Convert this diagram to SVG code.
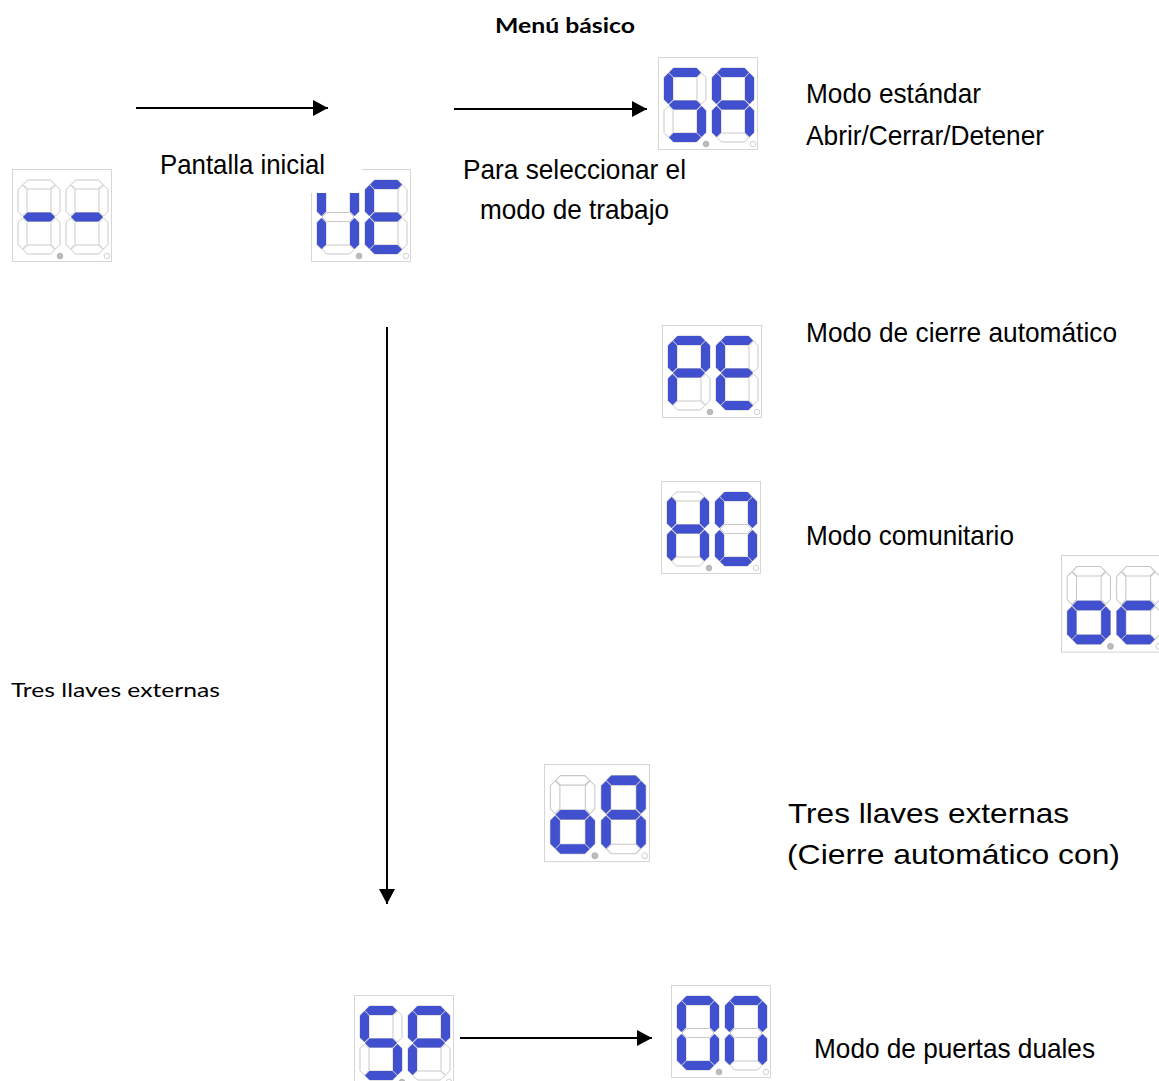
<svg xmlns="http://www.w3.org/2000/svg" width="1159" height="1081" viewBox="0 0 1159 1081">
<style>
.box{fill:#fff;stroke:#d6d6d6;stroke-width:1}
.on{fill:#4050cf}
.dot1{fill:#bdbdbd;stroke:#a8a8a8;stroke-width:0.8}
.dot2{fill:#fff;stroke:#c4c4c4;stroke-width:0.8}
.cond{font-family:"Liberation Sans",Arial,sans-serif;font-size:28px;fill:#000}
.reg{font-family:"Liberation Sans",Arial,sans-serif;font-size:28px;fill:#000}
.small{font-family:"Lato","Liberation Sans",sans-serif;font-size:20px;fill:#000}
.title{font-family:"Lato","Liberation Sans",sans-serif;font-size:21px;font-weight:bold;fill:#000}
.conn{stroke:#000;stroke-width:2;fill:none}
</style>
<defs>
<polygon id="h" points="5,0 9.5,-4.5 32.5,-4.5 37,0 32.5,4.5 9.5,4.5"/>
<polygon id="v" points="0,5 4.5,9.5 4.5,31.5 0,36 -4.5,31.5 -4.5,9.5"/>
<use id="sa" href="#h" transform="translate(0,4.5)"/>
<use id="sg" href="#h" transform="translate(0,37)"/>
<use id="sd" href="#h" transform="translate(0,69.5)"/>
<use id="sf" href="#v" transform="translate(4.5,0)"/>
<use id="sb" href="#v" transform="translate(37.5,0)"/>
<use id="se" href="#v" transform="translate(4.5,33)"/>
<use id="sc" href="#v" transform="translate(37.5,33)"/>
<g id="off" fill="#fff" stroke="#c8c8c8" stroke-width="1">
<use href="#sa"/><use href="#sb"/><use href="#sc"/><use href="#sd"/><use href="#se"/><use href="#sf"/><use href="#sg"/>
</g>
<g id="frame">
<rect class="box" x="0.5" y="0.5" width="99" height="92"/>
<use href="#off" x="6" y="11"/><use href="#off" x="54" y="11"/>
<circle class="dot1" cx="48" cy="87" r="2.8"/><circle class="dot2" cx="95" cy="87" r="2.8"/>
</g>
<marker id="arr" markerUnits="userSpaceOnUse" markerWidth="16" markerHeight="16" refX="15" refY="8" orient="auto">
<path d="M0,0 L15,8 L0,16 Z" fill="#000"/>
</marker>
</defs>

<g id="title"><text class="title" x="495" y="33" textLength="140" lengthAdjust="spacingAndGlyphs">Menú básico</text></g>

<g id="disp-dashes" transform="translate(12,169)">
<use href="#frame"/>
<g class="on" transform="translate(6,11)"><use href="#sg"/></g>
<g class="on" transform="translate(54,11)"><use href="#sg"/></g>
</g>

<g id="disp-UE" transform="translate(311,169)">
<use href="#frame"/>
<g class="on" transform="translate(6,11)"><use href="#sb"/><use href="#sc"/><use href="#se"/><use href="#sf"/></g>
<g class="on" transform="translate(54,11)"><use href="#sa"/><use href="#sd"/><use href="#se"/><use href="#sf"/><use href="#sg"/></g>
</g>
<rect id="cover" x="305" y="160" width="57" height="33" fill="#fff"/>

<g id="disp-SA" transform="translate(658,57)">
<use href="#frame"/>
<g class="on" transform="translate(6,11)"><use href="#sa"/><use href="#sf"/><use href="#sg"/><use href="#sc"/><use href="#sd"/></g>
<g class="on" transform="translate(54,11)"><use href="#sa"/><use href="#sb"/><use href="#sc"/><use href="#se"/><use href="#sf"/><use href="#sg"/></g>
</g>

<g id="disp-PE" transform="translate(662,325)">
<use href="#frame"/>
<g class="on" transform="translate(6,11)"><use href="#sa"/><use href="#sb"/><use href="#sf"/><use href="#sg"/><use href="#se"/></g>
<g class="on" transform="translate(54,11)"><use href="#sa"/><use href="#sf"/><use href="#sg"/><use href="#se"/><use href="#sd"/></g>
</g>

<g id="disp-HO" transform="translate(661,481)">
<use href="#frame"/>
<g class="on" transform="translate(6,11)"><use href="#sb"/><use href="#sc"/><use href="#se"/><use href="#sf"/><use href="#sg"/></g>
<g class="on" transform="translate(54,11)"><use href="#sa"/><use href="#sb"/><use href="#sc"/><use href="#sd"/><use href="#se"/><use href="#sf"/></g>
</g>

<g id="disp-oc" transform="translate(1061,555) scale(1.03,1.05)">
<use href="#frame"/>
<g class="on" transform="translate(6,11)"><use href="#sg"/><use href="#sc"/><use href="#sd"/><use href="#se"/></g>
<g class="on" transform="translate(54,11)"><use href="#sg"/><use href="#se"/><use href="#sd"/></g>
</g>

<g id="disp-oA" transform="translate(544,764) scale(1.06,1.055)">
<use href="#frame"/>
<g class="on" transform="translate(6,11)"><use href="#sg"/><use href="#sc"/><use href="#sd"/><use href="#se"/></g>
<g class="on" transform="translate(54,11)"><use href="#sa"/><use href="#sb"/><use href="#sc"/><use href="#se"/><use href="#sf"/><use href="#sg"/></g>
</g>

<g id="disp-SP" transform="translate(354,995)">
<use href="#frame"/>
<g class="on" transform="translate(6,11)"><use href="#sa"/><use href="#sf"/><use href="#sg"/><use href="#sc"/><use href="#sd"/></g>
<g class="on" transform="translate(54,11)"><use href="#sa"/><use href="#sb"/><use href="#sf"/><use href="#sg"/><use href="#se"/></g>
</g>

<g id="disp-On" transform="translate(671,985)">
<use href="#frame"/>
<g class="on" transform="translate(6,11)"><use href="#sa"/><use href="#sb"/><use href="#sc"/><use href="#sd"/><use href="#se"/><use href="#sf"/></g>
<g class="on" transform="translate(54,11)"><use href="#sa"/><use href="#sb"/><use href="#sc"/><use href="#se"/><use href="#sf"/></g>
</g>

<g id="connectors">
<line class="conn" x1="136" y1="108" x2="328" y2="108" marker-end="url(#arr)"/>
<line class="conn" x1="454" y1="109" x2="647" y2="109" marker-end="url(#arr)"/>
<line class="conn" x1="387" y1="327" x2="387" y2="904" marker-end="url(#arr)"/>
<line class="conn" x1="460" y1="1038" x2="652" y2="1038" marker-end="url(#arr)"/>
</g>

<g id="labels">
<text class="cond" x="160" y="174" textLength="165" lengthAdjust="spacingAndGlyphs">Pantalla inicial</text>
<text class="cond" x="463" y="179" textLength="223" lengthAdjust="spacingAndGlyphs">Para seleccionar el</text>
<text class="cond" x="480" y="219" textLength="189" lengthAdjust="spacingAndGlyphs">modo de trabajo</text>
<text class="cond" x="806" y="103" textLength="175" lengthAdjust="spacingAndGlyphs">Modo estándar</text>
<text class="cond" x="806" y="145" textLength="238" lengthAdjust="spacingAndGlyphs">Abrir/Cerrar/Detener</text>
<text class="cond" x="806" y="342" textLength="311" lengthAdjust="spacingAndGlyphs">Modo de cierre automático</text>
<text class="cond" x="806" y="545" textLength="208" lengthAdjust="spacingAndGlyphs">Modo comunitario</text>
<text class="small" x="11" y="697" textLength="209" lengthAdjust="spacingAndGlyphs">Tres llaves externas</text>
<text class="reg" x="788" y="823" textLength="281" lengthAdjust="spacingAndGlyphs">Tres llaves externas</text>
<text class="reg" x="787" y="864" textLength="333" lengthAdjust="spacingAndGlyphs">(Cierre automático con)</text>
<text class="cond" x="814" y="1058" textLength="281" lengthAdjust="spacingAndGlyphs">Modo de puertas duales</text>
</g>
</svg>
